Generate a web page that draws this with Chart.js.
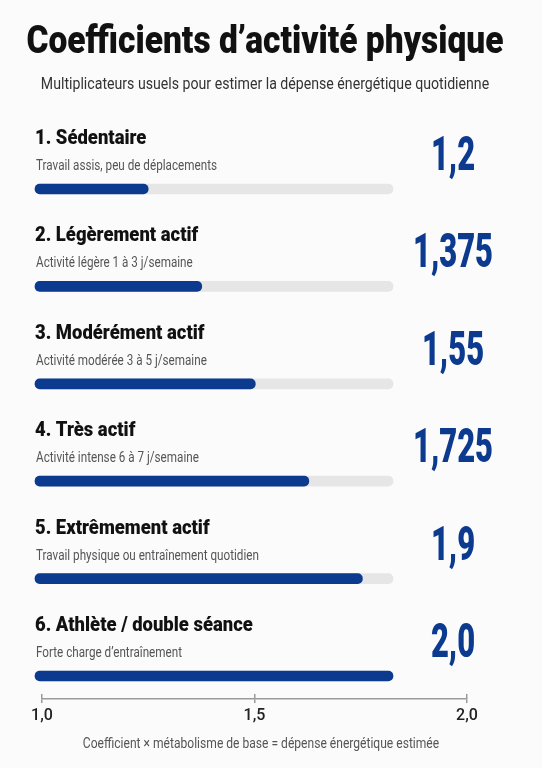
<!DOCTYPE html>
<html><head><meta charset="utf-8">
<script src="https://cdn.jsdelivr.net/npm/chart.js@4.4.1/dist/chart.umd.min.js"></script>
<style>
html,body{margin:0;padding:0;background:#fbfbfb;}
#wrap{position:relative;width:542px;height:768px;overflow:hidden;}
#wrap canvas{position:absolute;left:0;top:0;}
</style></head>
<body><div id="wrap"><canvas id="bars" width="542" height="768"></canvas><canvas id="axis" width="542" height="768"></canvas></div>
<script>
// ---- data ----
const titleText = 'Coefficients d’activité physique';
const subtitleText = 'Multiplicateurs usuels pour estimer la dépense énergétique quotidienne';
const footnoteText = 'Coefficient × métabolisme de base = dépense énergétique estimée';
const categories = ['1. Sédentaire', '2. Légèrement actif', '3. Modérément actif', '4. Très actif', '5. Extrêmement actif', '6. Athlète / double séance'];
const descriptions = ['Travail assis, peu de déplacements', 'Activité légère 1 à 3 j/semaine', 'Activité modérée 3 à 5 j/semaine', 'Activité intense 6 à 7 j/semaine', 'Travail physique ou entraînement quotidien', 'Forte charge d’entraînement'];
const coefficients = [1.2, 1.375, 1.55, 1.725, 1.9, 2.0];
const valueLabels = ['1,2', '1,375', '1,55', '1,725', '1,9', '2,0'];
const trackValues = [2.0, 2.0, 2.0, 2.0, 2.0, 2.0];
const axisTicks = [1.0, 1.5, 2.0];

// ---- styles ----
const NAVY = '#0b3a8f';
const BAR_MIN = 0.83, BAR_MAX = 2.0;
const FONT = 'Roboto, "Liberation Sans", sans-serif';
const styles = {
  title:    {font: '900 39px ' + FONT, color: '#111111', ref: titleText, w: 476},
  subtitle: {font: '400 16px ' + FONT, color: '#333333', ref: subtitleText, w: 447},
  label:    {font: '900 21px ' + FONT, color: '#111111', ref: categories[0], w: 111},
  desc:     {font: '400 15.5px ' + FONT, color: '#555555', ref: descriptions[0], w: 181},
  value:    {font: '900 48px ' + FONT, color: NAVY, ref: valueLabels[1], w: 77},
  foot:     {font: '400 14px ' + FONT, color: '#555555', ref: footnoteText, w: 356}
};
function inkWidth(ctx, st) {
  ctx.font = st.font; ctx.textAlign = 'left';
  const m = ctx.measureText(st.ref);
  return (m.actualBoundingBoxLeft + m.actualBoundingBoxRight) || m.width;
}
function drawText(ctx, st, text, x, y, align) {
  if (!st.sx) st.sx = st.w / inkWidth(ctx, st);
  ctx.save();
  ctx.font = st.font; ctx.fillStyle = st.color;
  ctx.textAlign = align; ctx.textBaseline = 'alphabetic';
  ctx.translate(x, y); ctx.scale(st.sx, 1);
  ctx.fillText(text, 0, 0);
  ctx.restore();
}

const textPlugin = {
  id: 'texts',
  afterDatasetsDraw(chart) {
    const ctx = chart.ctx;
    const yS = chart.scales.y;
    drawText(ctx, styles.title, titleText, 265, 53, 'center');
    drawText(ctx, styles.subtitle, subtitleText, 265, 89, 'center');
    categories.forEach((c, i) => {
      const y = yS.getPixelForValue(i);
      drawText(ctx, styles.label, c, 35, y - 45, 'left');
      drawText(ctx, styles.desc, descriptions[i], 36, y - 19, 'left');
      drawText(ctx, styles.value, valueLabels[i], 453, y - 19, 'center');
    });
    drawText(ctx, styles.foot, footnoteText, 261, 748, 'center');
  }
};

new Chart(document.getElementById('bars'), {
  type: 'bar',
  data: {
    labels: categories,
    datasets: [
      {data: coefficients, base: BAR_MIN, backgroundColor: NAVY, barThickness: 10, borderRadius: 5, borderSkipped: false, clip: false, order: 0},
      {data: trackValues, base: BAR_MIN, backgroundColor: '#e6e6e6', barThickness: 10, borderRadius: 5, borderSkipped: false, clip: false, order: 1}
    ]
  },
  options: {
    indexAxis: 'y', responsive: false, animation: false, devicePixelRatio: 1,
    grouped: false,
    layout: {padding: {left: 35, right: 149, top: 189, bottom: 92}},
    scales: {
      x: {type: 'linear', min: BAR_MIN, max: BAR_MAX, display: false},
      y: {type: 'category', offset: false, display: false}
    },
    plugins: {legend: {display: false}, tooltip: {enabled: false}}
  },
  plugins: [textPlugin]
});

new Chart(document.getElementById('axis'), {
  type: 'scatter',
  data: {datasets: [{data: []}]},
  options: {
    responsive: false, animation: false, devicePixelRatio: 1,
    layout: {padding: {left: 42, right: 75, top: 694, bottom: 42}},
    scales: {
      x: {
        type: 'linear', min: 1.0, max: 2.0,
        afterBuildTicks: s => { s.ticks = axisTicks.map(v => ({value: v})); },
        afterFit: s => { s.height = 27; },
        grid: {display: true, drawOnChartArea: true, drawTicks: true, tickLength: 4, color: '#9a9a9a', lineWidth: 1.5},
        border: {display: true, color: '#9a9a9a', width: 1.5},
        ticks: {padding: 3, color: '#222222', font: {family: 'Roboto', size: 16, weight: '500'},
                callback: v => v.toFixed(1).replace('.', ',')}
      },
      y: {type: 'linear', min: 0, max: 1, display: false}
    },
    plugins: {legend: {display: false}, tooltip: {enabled: false}}
  }
});
</script></body></html>
